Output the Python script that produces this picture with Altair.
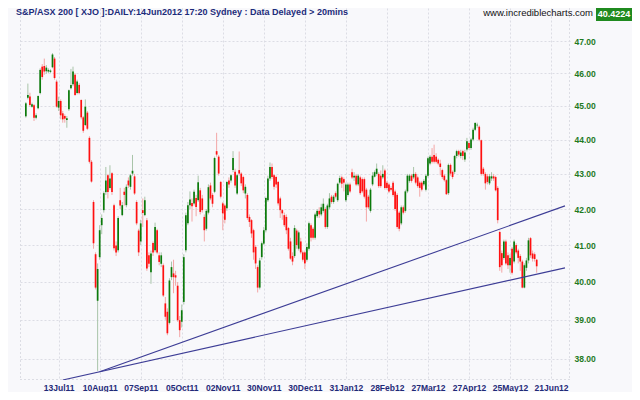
import json
import altair as alt
import pandas as pd

# ---------------- data ----------------
first_day = 4  # bar index of the first candle (13Jul11 tick = index 20)
opens = [44.69,45.25,45.29,44.98,45.02,44.65,44.93,45.39,46.20,46.22,
         46.06,46.05,46.04,46.18,46.45,45.74,44.95,45.15,44.78,44.70,
         44.58,44.90,45.54,45.66,45.95,45.39,45.64,45.18,44.66,44.43,
         44.80,44.05,43.35,42.20,40.75,39.50,40.67,41.55,41.97,42.48,
         42.96,42.60,43.02,42.11,40.99,40.86,42.25,41.83,42.49,42.11,
         42.81,42.63,43.01,42.93,42.20,41.40,41.10,41.97,41.83,41.69,
         40.72,40.26,41.06,40.86,41.41,40.72,40.49,40.45,39.43,39.21,
         38.92,40.13,40.23,40.18,39.90,38.99,38.95,39.47,40.86,41.60,
         42.11,42.17,42.16,42.31,42.25,42.53,42.30,41.78,41.45,41.90,
         42.67,42.40,42.49,43.66,43.50,42.77,42.16,42.10,42.02,42.81,
         42.81,43.11,43.06,42.44,43.11,43.01,42.91,42.44,42.40,41.78,
         41.69,41.41,40.95,40.40,39.85,40.67,41.04,41.41,42.25,42.87,
         43.20,42.96,42.91,42.77,42.30,41.97,41.83,41.78,41.47,41.10,
         40.70,40.70,41.40,40.90,41.10,40.80,40.80,40.60,40.90,41.55,
         41.45,41.20,41.80,41.95,41.85,41.95,42.00,41.50,42.05,42.35,
         42.20,42.45,42.25,42.75,42.90,42.85,42.25,42.40,42.70,43.05,
         42.90,42.95,42.70,42.90,42.85,42.85,42.55,42.35,41.95,42.70,
         42.92,43.00,43.00,42.95,42.90,43.10,42.75,42.70,42.60,42.75,
         42.50,42.40,41.90,41.60,42.05,41.95,42.50,42.80,42.95,42.90,
         43.00,42.90,42.75,42.75,42.70,42.55,42.95,43.30,43.50,43.55,
         43.50,43.41,43.30,43.11,42.95,42.82,42.45,43.26,43.06,43.06,
         43.52,43.66,43.52,43.66,43.42,43.71,43.90,43.75,44.00,44.29,
         44.42,44.38,43.98,43.15,43.00,42.93,42.73,42.87,42.93,42.91,
         42.60,41.36,40.78,40.65,41.10,40.72,40.45,40.90,40.55,41.00,
         40.85,40.70,40.55,39.85,40.38,40.58,41.19,40.77,40.75,40.60]
highs = [45.12,45.68,45.40,45.10,45.06,44.78,45.32,46.15,46.28,46.45,
         46.25,46.15,46.12,46.62,46.50,45.80,45.28,45.20,44.85,44.75,
         44.70,45.50,46.13,46.20,46.00,45.80,45.70,45.20,44.70,45.20,
         44.85,44.10,43.40,42.25,40.80,40.50,41.55,41.85,42.50,43.20,
         43.00,43.25,43.05,42.15,41.10,41.80,42.60,42.20,42.60,42.70,
         42.90,43.00,43.55,43.00,42.25,41.45,41.70,42.30,42.35,41.75,
         40.80,40.85,41.10,41.62,41.45,40.80,40.80,40.50,39.60,39.30,
         40.10,40.55,40.60,40.30,40.00,39.10,39.40,40.75,41.90,42.20,
         42.50,42.30,42.55,42.40,42.95,42.60,42.40,41.85,42.00,42.70,
         42.75,42.45,43.50,44.20,43.55,42.80,42.20,42.15,42.80,42.90,
         43.00,43.66,43.15,43.00,43.65,43.05,42.95,42.70,42.45,41.85,
         41.72,41.45,41.00,40.45,40.65,41.10,41.50,42.35,42.95,43.33,
         43.30,43.00,42.95,42.80,42.35,42.00,41.90,41.85,41.50,41.20,
         40.80,41.55,41.45,41.40,41.20,40.85,40.85,41.05,41.65,41.60,
         41.50,41.90,42.00,42.05,42.15,42.30,42.05,42.15,42.45,42.40,
         42.40,42.50,42.75,42.95,42.95,42.90,42.75,42.75,42.75,43.15,
         43.05,43.00,43.00,42.95,42.90,42.90,42.60,42.40,42.60,43.05,
         43.10,43.30,43.05,43.10,43.25,43.15,42.80,42.75,42.65,42.80,
         42.55,42.45,41.95,42.10,42.10,42.55,43.00,43.00,43.00,43.20,
         43.05,42.95,42.80,42.80,42.85,43.00,43.50,43.55,43.75,43.85,
         43.60,43.45,43.41,43.15,43.00,42.85,43.30,43.30,43.10,43.55,
         43.70,43.70,43.70,43.70,43.70,44.05,43.95,44.05,44.35,44.52,
         44.50,44.42,44.00,43.20,43.05,43.00,43.00,43.05,43.00,42.95,
         42.65,41.40,40.85,41.15,41.15,40.80,40.75,40.95,41.15,41.05,
         40.90,40.75,40.60,40.50,40.65,41.20,41.22,40.85,40.80,40.62]
lows = [44.65,45.20,44.98,44.95,44.55,44.60,44.90,45.35,45.80,45.95,
        45.98,46.00,46.00,46.15,45.80,44.95,44.85,44.60,44.50,44.50,
        44.35,44.85,45.50,45.60,45.30,45.35,45.35,44.60,44.20,44.40,
        44.28,43.30,42.75,40.90,39.80,37.69,40.60,41.30,41.90,42.40,
        42.30,42.55,42.40,40.85,40.70,40.80,42.00,41.80,42.10,42.05,
        42.60,42.55,42.95,42.40,41.55,40.70,41.00,41.50,41.80,40.30,
        40.40,39.95,40.70,40.80,40.75,40.45,40.40,39.60,39.00,38.60,
        38.88,40.05,39.70,39.90,38.95,38.55,38.80,39.40,40.80,41.55,
        42.00,41.65,42.10,41.80,42.20,41.85,41.90,41.10,41.40,41.85,
        42.25,42.05,42.45,43.50,42.95,42.30,41.41,41.60,41.95,42.60,
        42.75,43.05,42.60,42.40,42.95,42.65,42.45,42.30,41.70,41.50,
        41.20,40.60,40.35,39.72,39.80,40.60,41.00,41.35,42.20,42.80,
        42.85,42.55,42.60,42.10,41.75,41.70,41.50,41.30,40.85,40.60,
        40.45,40.65,40.90,40.85,40.75,40.55,40.35,40.55,40.85,41.10,
        41.15,41.15,41.75,41.75,41.80,41.90,41.45,41.45,42.00,42.15,
        42.15,42.30,42.20,42.70,42.60,42.50,42.20,42.35,42.45,42.85,
        42.80,42.65,42.65,42.40,42.45,42.30,41.65,42.00,41.90,42.65,
        42.90,42.95,42.60,42.60,42.85,42.55,42.55,42.45,42.50,42.35,
        41.95,41.45,41.38,41.55,41.85,41.90,42.45,42.75,42.75,42.85,
        42.70,42.60,42.35,42.50,42.65,42.50,42.90,43.25,43.30,43.30,
        43.30,43.25,42.96,42.85,42.78,42.40,42.40,42.95,42.85,43.00,
        43.45,43.50,43.45,43.40,43.35,43.65,43.70,43.70,43.95,44.25,
        44.35,43.95,42.95,42.95,42.55,42.70,42.68,42.80,42.80,42.50,
        41.60,40.30,40.25,40.60,40.45,40.35,40.25,40.20,40.50,40.75,
        40.50,40.30,39.83,39.83,40.30,40.50,40.65,40.55,40.55,40.25]
closes = [45.08,45.33,45.03,45.05,44.65,44.72,45.30,46.10,45.88,46.05,
          46.17,46.10,46.08,46.58,45.85,44.98,45.15,44.72,44.60,44.62,
          44.63,45.48,45.64,46.05,45.33,45.74,45.39,44.66,44.26,44.98,
          44.32,43.35,42.78,41.05,39.85,40.35,41.41,41.75,42.45,42.81,
          42.48,42.87,42.48,40.91,40.80,41.75,42.10,42.11,42.40,42.63,
          42.67,42.96,43.09,42.44,41.60,40.80,41.60,41.89,42.25,40.36,
          40.49,40.77,40.80,41.50,40.80,40.54,40.72,39.64,39.08,38.65,
          40.04,40.40,40.13,40.12,38.99,38.73,39.25,40.67,41.83,42.11,
          42.27,42.08,42.49,42.06,42.76,41.92,41.97,41.41,41.95,42.62,
          42.30,42.15,43.46,43.56,43.01,42.35,41.88,41.70,42.77,42.70,
          42.96,43.46,42.67,42.96,43.01,42.73,42.53,42.63,41.75,41.64,
          41.32,40.80,40.50,39.85,40.58,41.05,41.41,42.31,42.87,43.20,
          42.91,42.63,42.70,42.16,41.97,41.88,41.55,41.41,40.90,40.63,
          40.55,41.47,41.00,41.35,40.80,40.60,40.50,40.95,41.60,41.20,
          41.20,41.85,41.95,41.85,42.05,42.15,41.50,42.10,42.30,42.20,
          42.35,42.35,42.72,42.88,42.72,42.75,42.70,42.70,42.50,42.90,
          42.95,42.70,42.95,42.45,42.50,42.35,42.05,42.05,42.55,42.95,
          43.05,43.15,42.65,42.65,43.00,42.60,42.60,42.50,42.55,42.40,
          42.00,41.50,41.45,42.05,41.90,42.50,42.95,42.95,42.80,43.00,
          42.75,42.65,42.60,42.55,42.80,42.95,43.45,43.50,43.35,43.35,
          43.35,43.30,43.20,42.91,42.82,42.42,43.26,43.01,42.91,43.52,
          43.66,43.56,43.62,43.52,43.62,43.95,43.75,44.00,44.29,44.49,
          44.44,44.00,43.00,43.00,42.73,42.77,42.93,42.93,42.87,42.53,
          41.69,40.40,40.45,41.10,40.50,40.45,40.65,40.25,41.10,40.80,
          40.65,40.55,39.85,40.45,40.58,41.13,40.72,40.63,40.62,40.4224]

x_labels = ["13Jul11", "10Aug11", "07Sep11", "05Oct11", "02Nov11", "30Nov11",
            "30Dec11", "31Jan12", "28Feb12", "27Mar12", "27Apr12", "25May12", "21Jun12"]
x_tick_idx = [20 + 20 * k for k in range(len(x_labels))]
y_ticks = [38, 39, 40, 41, 42, 43, 44, 45, 46, 47]

# trend lines (bar index, value)
trend_upper_idx = [40, 266.8]
trend_upper_val = [37.67, 42.09]
trend_lower_idx = [22, 266.8]
trend_lower_val = [37.46, 40.38]

title_text = "S&P/ASX 200 [ XJO ]:DAILY:14Jun2012 17:20 Sydney : Data Delayed > 20mins"
site_text = "www.incrediblecharts.com"
last_text = "40.4224"

# ---------------- chart ----------------
df = pd.DataFrame({
    "idx": list(range(first_day, first_day + len(closes))),
    "open": opens, "high": highs, "low": lows, "close": closes,
})

W, H = 550, 372
BG = "#f8f8fb"
GRID = "#dcdde4"
FONT = "Liberation Sans"

xscale = alt.Scale(domain=[3.6, 266.8], nice=False, zero=False)
yscale = alt.Scale(type="log", domain=[37.46, 48.05], nice=False)

label_expr = json.dumps(x_labels) + "[round((datum.value - 20) / 20)]"

xaxis = alt.Axis(values=x_tick_idx, labelExpr=label_expr, grid=True, gridColor=GRID,
                 gridDash=[2, 2], tickSize=0, domain=False, labelPadding=3,
                 labelFont=FONT, labelFontSize=8.5, labelFontWeight="bold",
                 labelColor="#1f2a78", title=None, labelFlush=False)
yaxis = alt.Axis(values=y_ticks, orient="right", format=".2f", grid=True, gridColor=GRID,
                 gridDash=[2, 2], tickSize=0, domain=False, labelPadding=4,
                 labelFont=FONT, labelFontSize=8.5, labelFontWeight="bold",
                 labelColor="#1e7a1e", title=None)

base = alt.Chart(df)
up = "datum.close >= datum.open"

wicks = base.mark_rule(strokeWidth=1).encode(
    x=alt.X("idx:Q", scale=xscale, axis=xaxis),
    y=alt.Y("low:Q", scale=yscale, axis=yaxis),
    y2="high:Q",
    color=alt.condition(up, alt.value("#a9c4a9"), alt.value("#f3a6a6")),
)
bodies = base.mark_bar(size=1.7).encode(
    x="idx:Q",
    y="open:Q",
    y2="close:Q",
    color=alt.condition(up, alt.value("#0b7a0b"), alt.value("#ff1010")),
)

tdf = pd.DataFrame({
    "idx": trend_upper_idx + trend_lower_idx,
    "val": trend_upper_val + trend_lower_val,
    "line": ["upper"] * len(trend_upper_idx) + ["lower"] * len(trend_lower_idx),
})
trends = alt.Chart(tdf).mark_line(color="#3d3d96", strokeWidth=1.1, clip=True).encode(
    x="idx:Q", y="val:Q", detail="line:N"
)

# frame lines (left, right, bottom)
frame_l = alt.Chart(pd.DataFrame({"a": [0]})).mark_rule(color=GRID, strokeDash=[2, 2]).encode(
    x=alt.value(0.5), y=alt.value(0), y2=alt.value(H))
frame_r = alt.Chart(pd.DataFrame({"a": [0]})).mark_rule(color=GRID, strokeDash=[2, 2]).encode(
    x=alt.value(W - 0.5), y=alt.value(0), y2=alt.value(H))
frame_b = alt.Chart(pd.DataFrame({"a": [0]})).mark_rule(color=GRID, strokeDash=[2, 2]).encode(
    x=alt.value(0), x2=alt.value(W), y=alt.value(H - 0.5))

title = alt.Chart(pd.DataFrame({"t": [title_text]})).mark_text(
    align="left", baseline="top", font=FONT, fontSize=9, fontWeight="bold", color="#1c2b7a"
).encode(text="t:N", x=alt.value(-4), y=alt.value(0))

site = alt.Chart(pd.DataFrame({"t": [site_text]})).mark_text(
    align="right", baseline="top", font=FONT, fontSize=9.5, color="#111111"
).encode(text="t:N", x=alt.value(573), y=alt.value(0))

box = alt.Chart(pd.DataFrame({"a": [0]})).mark_rect(color="#1f8a1f").encode(
    x=alt.value(576), x2=alt.value(612), y=alt.value(0), y2=alt.value(13))
last = alt.Chart(pd.DataFrame({"t": [last_text]})).mark_text(
    align="center", baseline="top", font=FONT, fontSize=9, fontWeight="bold", color="#ffffff"
).encode(text="t:N", x=alt.value(594), y=alt.value(1.5))

chart = alt.layer(
    frame_l, frame_r, frame_b, wicks, bodies, trends, title, site, box, last
).properties(
    width=W, height=H,
    autosize=alt.AutoSizeParams(type="none"),
    padding={"left": 12, "top": 0, "right": 62, "bottom": 12},
    background=BG,
).configure_view(
    stroke=None, fill=BG
)

chart.save("out.html", embed_options={"renderer": "svg", "actions": False})
